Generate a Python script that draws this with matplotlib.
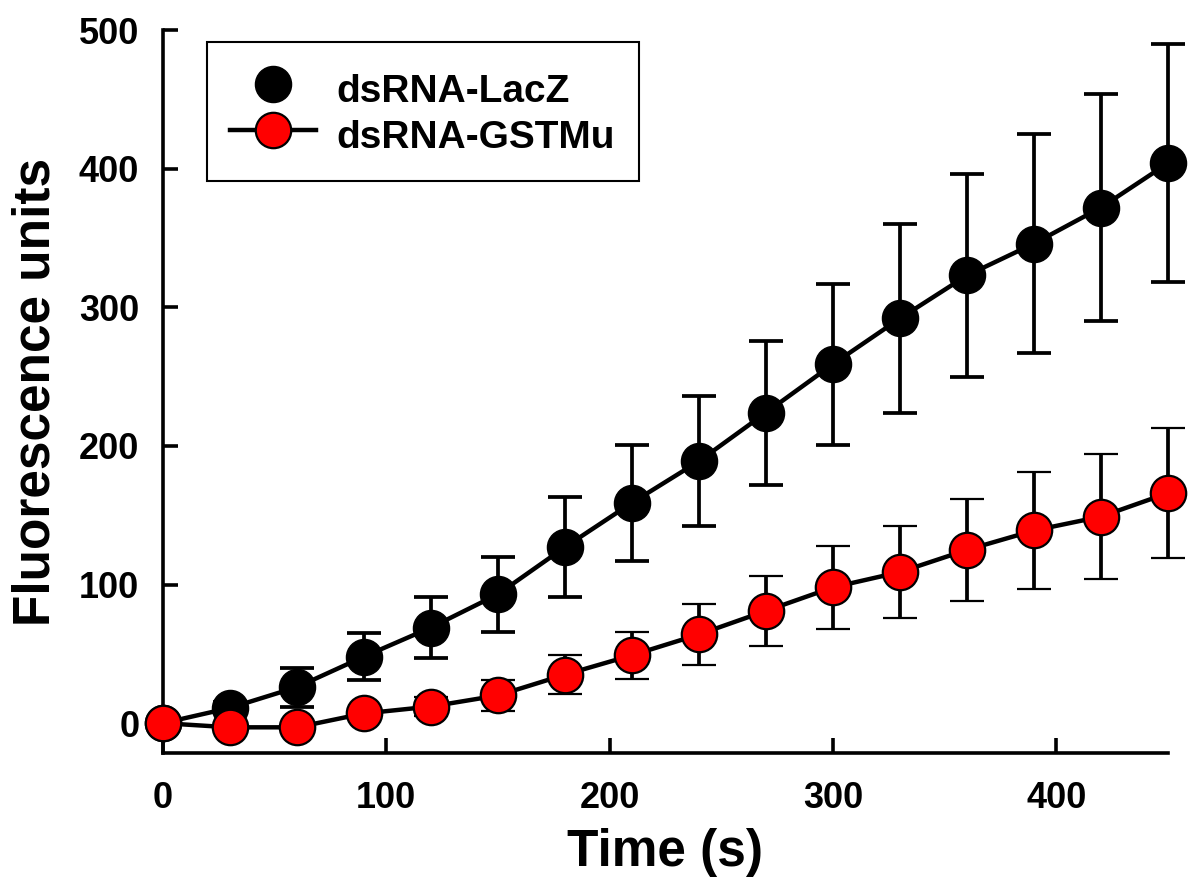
import matplotlib
matplotlib.use('Agg')
import matplotlib.pyplot as plt
from matplotlib.lines import Line2D

plt.rcParams['font.family'] = ['Liberation Sans', 'DejaVu Sans']
plt.rcParams['font.weight'] = 'bold'

# ── Data ──────────────────────────────────────────────────────────────────────
time_s = [0, 30, 60, 90, 120, 150, 180, 210, 240, 270, 300, 330, 360, 390, 420, 450]

lacz     = [0, 11, 26, 48, 69, 93, 127, 159, 189, 224, 259, 292, 323, 346, 372, 404]
lacz_err = [0, 4, 14, 17, 22, 27, 36, 42, 47, 52, 58, 68, 73, 79, 82, 86]

gstmu     = [0, -3, -3, 7, 12, 20, 35, 49, 64, 81, 98, 109, 125, 139, 149, 166]
gstmu_err = [0, 0, 0, 3, 7, 11, 14, 17, 22, 25, 30, 33, 37, 42, 45, 47]

LABELS = ["dsRNA-LacZ", "dsRNA-GSTMu"]

# ── Plot ──────────────────────────────────────────────────────────────────────
fig = plt.figure(figsize=(12, 8.86), dpi=100)
ax = fig.add_axes([0.1358, 0.150, 0.8375, 0.816])

err_kw = dict(ecolor='black', elinewidth=2.7, capsize=12.5, capthick=2.7, clip_on=False)
ax.errorbar(time_s, lacz, yerr=lacz_err, color='black', lw=3.2, marker='o',
            markersize=26, markerfacecolor='black', markeredgecolor='black',
            zorder=3, **err_kw)
ax.errorbar(time_s, gstmu, yerr=gstmu_err, color='black', lw=3.2, marker='o',
            markersize=25.5, markerfacecolor='#ff0000', markeredgecolor='black',
            markeredgewidth=1.6, zorder=4, **err_kw)
for ln in ax.lines:
    ln.set_clip_on(False)

ax.set_xlim(0, 450)
ax.set_ylim(-21.6, 500)
ax.set_xticks([0, 100, 200, 300, 400])
ax.set_yticks([0, 100, 200, 300, 400, 500])

for side in ('top', 'right'):
    ax.spines[side].set_visible(False)
for side in ('left', 'bottom'):
    ax.spines[side].set_linewidth(2.6)

ax.tick_params(axis='both', direction='in', length=11, width=2.6, labelsize=26)
ax.tick_params(axis='x', pad=20)
ax.tick_params(axis='y', pad=17)

ax.set_xlabel("Time (s)", fontsize=37, fontweight='bold', labelpad=9)
ax.set_ylabel("Fluorescence units", fontsize=37, fontweight='bold', labelpad=13)

handles = [
    Line2D([], [], linestyle='none', marker='o', markersize=26,
           markerfacecolor='black', markeredgecolor='black'),
    Line2D([], [], color='black', lw=3.2, marker='o', markersize=25.5,
           markerfacecolor='#ff0000', markeredgecolor='black', markeredgewidth=1.6),
]
leg = ax.legend(handles, LABELS, loc='upper left', bbox_to_anchor=(0.0438, 0.983),
                borderaxespad=0, fancybox=False, framealpha=1, edgecolor='black',
                prop={'size': 28, 'weight': 'bold'}, handlelength=2.2,
                handleheight=1.45, handletextpad=0.54, labelspacing=0.0,
                borderpad=0.6)
leg.get_frame().set_linewidth(1.5)

plt.savefig("out.png", dpi=100)
